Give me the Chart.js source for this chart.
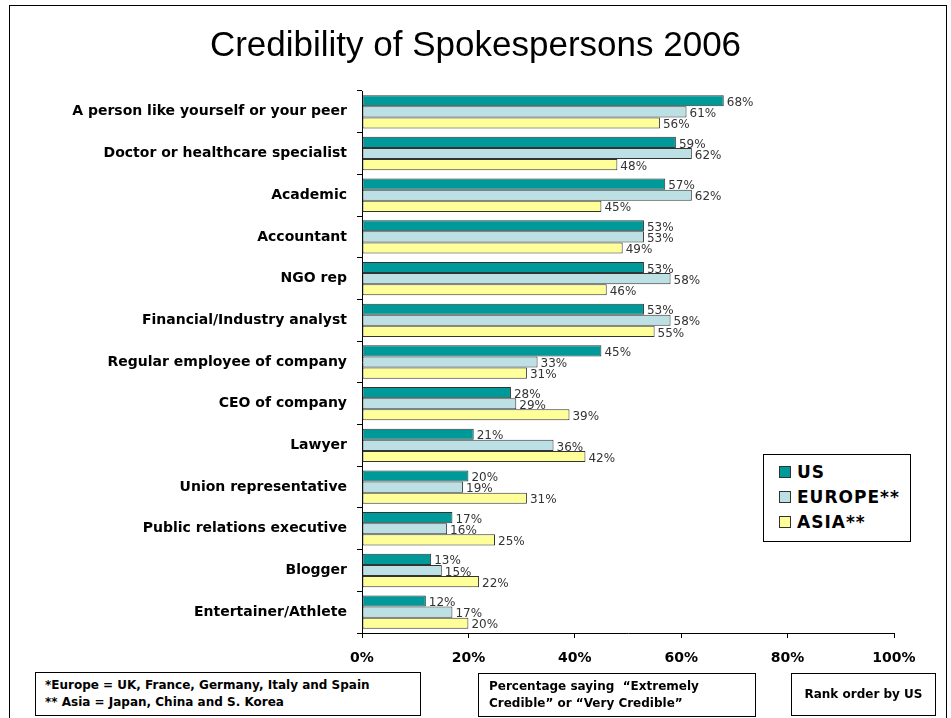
<!DOCTYPE html>
<html>
<head>
<meta charset="utf-8">
<script src="https://cdn.jsdelivr.net/npm/chart.js@4"></script>
<style>
  body { margin: 0; background: #fff; overflow: hidden; }
  #wrap { position: relative; width: 951px; height: 718px; }
  #container { position: absolute; left: 0; top: 0; }
  .frame { position: absolute; left: 9px; top: 5px; width: 936px; height: 760px; border: 1px solid #000; }
  .box { position: absolute; border: 1px solid #000; background: #fff;
         font: bold 12px "DejaVu Sans", Verdana, sans-serif; color: #000; line-height: 17px; }
  #legend { position: absolute; left: 763px; top: 454px; width: 146px; height: 86px;
            border: 1px solid #000; background: #fff; }
  .item { position: absolute; left: 15px; font: bold 17px "DejaVu Sans", Verdana, sans-serif;
          letter-spacing: 1px; line-height: 20px; }
  .item span { display: inline-block; width: 10px; height: 10px; border: 1px solid #333;
               margin-right: 6px; vertical-align: 0px; }
</style>
</head>
<body>
<div id="wrap">
  <div class="frame"></div>
  <canvas id="container" width="951" height="718"></canvas>
  <div id="legend"></div>
  <div class="box" style="left:35px;top:672px;width:386px;height:44px;padding:0 0 0 9px;box-sizing:border-box;padding-top:4px;">
    *Europe = UK, France, Germany, Italy and Spain<br>** Asia = Japan, China and S. Korea</div>
  <div class="box" style="left:478px;top:673px;width:278px;height:44px;padding:0 0 0 10px;box-sizing:border-box;padding-top:4px;">
    Percentage saying &nbsp;“Extremely<br>Credible” or “Very Credible”</div>
  <div class="box" style="left:791px;top:673px;width:145px;height:43px;box-sizing:border-box;padding-top:12px;text-align:center;">
    Rank order by US</div>
</div>
<script>
const titleText = 'Credibility of Spokespersons 2006';
const categories = [
  'A person like yourself or your peer',
  'Doctor or healthcare specialist',
  'Academic',
  'Accountant',
  'NGO rep',
  'Financial/Industry analyst',
  'Regular employee of company',
  'CEO of company',
  'Lawyer',
  'Union representative',
  'Public relations executive',
  'Blogger',
  'Entertainer/Athlete'
];
const seriesNames = ['US', 'EUROPE**', 'ASIA**'];
const usValues     = [68, 59, 57, 53, 53, 53, 45, 28, 21, 20, 17, 13, 12];
const europeValues = [61, 62, 62, 53, 58, 58, 33, 29, 36, 19, 16, 15, 17];
const asiaValues   = [56, 48, 45, 49, 46, 55, 31, 39, 42, 31, 25, 22, 20];
const xTicks = [0, 20, 40, 60, 80, 100];

const colors = ['#009999', '#BCE0E3', '#FFFF99'];

// legend as plain html, inside the plot like the original
const legend = document.getElementById('legend');
seriesNames.forEach((name, i) => {
  const d = document.createElement('div');
  d.className = 'item';
  d.style.top = (7 + i * 25) + 'px';
  d.innerHTML = '<span style="background:' + colors[i] + '"></span>' + name;
  legend.appendChild(d);
});

// value labels at the end of each bar
const barLabels = {
  id: 'barLabels',
  afterDatasetsDraw(chart) {
    const ctx = chart.ctx;
    ctx.save();
    ctx.font = '12px "DejaVu Sans", Verdana, sans-serif';
    ctx.fillStyle = '#333';
    ctx.textBaseline = 'middle';
    ctx.textAlign = 'left';
    chart.data.datasets.forEach((ds, i) => {
      chart.getDatasetMeta(i).data.forEach((bar, j) => {
        ctx.fillText(ds.data[j] + '%', bar.x + 3, bar.y + 2);
      });
    });
    ctx.restore();
  }
};

new Chart(document.getElementById('container'), {
  type: 'bar',
  data: {
    labels: categories,
    datasets: [usValues, europeValues, asiaValues].map((vals, i) => ({
      label: seriesNames[i],
      data: vals,
      backgroundColor: colors[i],
      borderColor: '#333',
      borderWidth: 1,
      borderSkipped: false,
      categoryPercentage: 0.8,
      barPercentage: 1
    }))
  },
  options: {
    indexAxis: 'y',
    responsive: false,
    animation: false,
    // equal side padding keeps the title centred on the page
    layout: { padding: { left: 57, right: 57, bottom: 45, top: 0 } },
    plugins: {
      legend: { display: false },
      tooltip: { enabled: false },
      title: {
        display: true,
        text: titleText,
        color: '#000',
        font: { family: '"Liberation Sans", Arial, sans-serif', size: 35, weight: 'normal', lineHeight: 1.2 },
        padding: { top: 25, bottom: 24 }
      }
    },
    scales: {
      x: {
        min: 0,
        max: 100,
        afterBuildTicks: (scale) => { scale.ticks = xTicks.map(v => ({ value: v })); },
        afterFit: (scale) => { scale.height = 40; },
        grid: { drawOnChartArea: false, tickLength: 5, color: '#000' },
        border: { color: '#000' },
        ticks: {
          padding: 12,
          color: '#000',
          font: { family: '"DejaVu Sans", Verdana, sans-serif', size: 14, weight: 'bold' },
          callback: (v) => v + '%'
        }
      },
      y: {
        afterFit: (scale) => { scale.width = 305; },
        grid: { offset: true, drawOnChartArea: false, tickLength: 5, color: '#000' },
        border: { color: '#000' },
        ticks: {
          padding: 10,
          color: '#000',
          font: { family: '"DejaVu Sans", Verdana, sans-serif', size: 14, weight: 'bold' }
        }
      }
    }
  },
  plugins: [barLabels]
});
</script>
</body>
</html>
